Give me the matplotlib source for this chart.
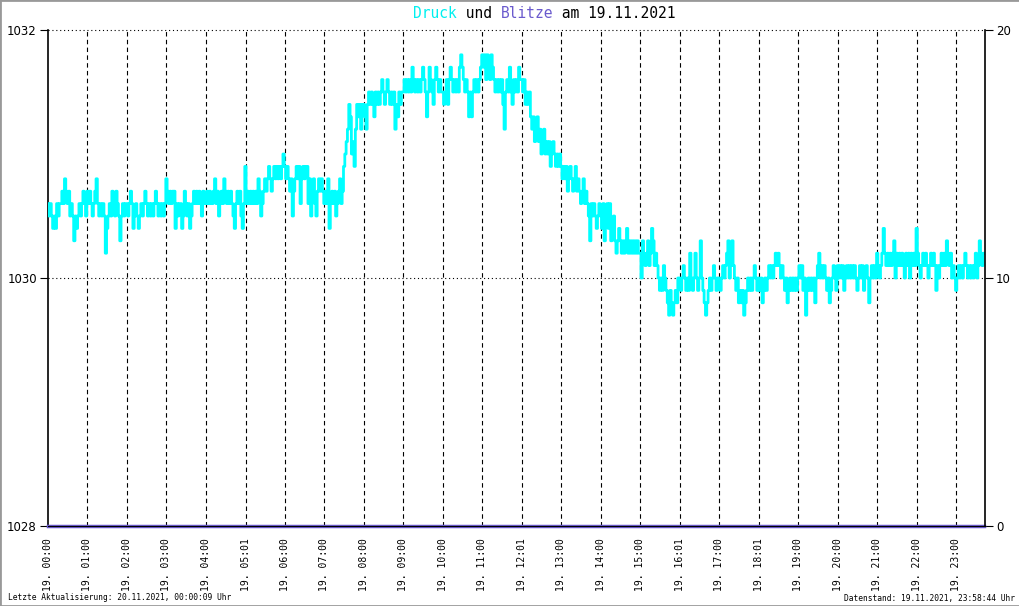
import numpy as np
import matplotlib.pyplot as plt
from matplotlib.patches import Rectangle

# Luftdruck als Zehntel-hPa ueber 1030 hPa, ein Wert alle 2 Minuten
druck_zehntel_00_06 = [
    6, 5, 6, 5, 4, 5, 4, 6, 5, 6, 6, 7, 6, 8, 7, 6, 7, 5, 6, 5, 3, 5, 4, 5, 6, 5, 6, 7, 6, 5,
    7, 6, 7, 6, 5, 6, 7, 8, 6, 5, 6, 5, 6, 5, 2, 4, 5, 6, 5, 7, 6, 5, 7, 6, 5, 3, 5, 6, 5, 6,
    6, 5, 6, 7, 6, 4, 5, 6, 5, 4, 5, 6, 5, 6, 7, 6, 5, 6, 5, 6, 5, 6, 7, 6, 5, 6, 5, 6, 5, 6,
    8, 7, 6, 7, 6, 7, 7, 4, 6, 5, 6, 6, 4, 5, 7, 6, 5, 6, 4, 5, 6, 7, 6, 7, 6, 7, 6, 5, 7, 6,
    6, 7, 6, 7, 6, 6, 7, 8, 6, 7, 5, 6, 7, 6, 8, 7, 6, 7, 6, 7, 6, 5, 4, 6, 7, 6, 7, 5, 4, 6,
    9, 6, 7, 6, 7, 6, 7, 6, 7, 6, 8, 7, 5, 6, 7, 8, 7, 8, 9, 8, 7, 8, 9, 8, 9, 8, 9, 8, 9, 10,
]
druck_zehntel_06_12 = [
    9, 8, 9, 8, 7, 8, 5, 7, 8, 9, 8, 9, 6, 8, 9, 8, 9, 9, 6, 8, 5, 7, 8, 6, 5, 7, 8, 7, 8, 7,
    6, 7, 6, 8, 4, 6, 7, 6, 7, 5, 6, 7, 8, 6, 7, 9, 10, 11, 12, 14, 13, 10, 11, 9, 12, 14, 13, 14, 12, 14,
    14, 13, 12, 14, 15, 14, 15, 14, 13, 15, 14, 15, 14, 15, 16, 15, 14, 15, 16, 15, 14, 15, 14, 15, 12, 14, 13, 15, 14, 15,
    15, 16, 15, 16, 15, 16, 15, 17, 16, 15, 16, 15, 16, 15, 16, 17, 16, 15, 13, 15, 17, 16, 15, 14, 16, 17, 16, 15, 16, 15,
    15, 14, 15, 16, 14, 16, 17, 16, 15, 16, 15, 16, 15, 17, 18, 17, 16, 15, 16, 15, 13, 15, 13, 15, 16, 15, 16, 15, 16, 17,
    18, 17, 18, 16, 18, 17, 16, 18, 17, 16, 15, 16, 15, 16, 15, 16, 14, 12, 15, 16, 15, 17, 15, 14, 16, 15, 16, 15, 17, 16,
]
druck_zehntel_12_18 = [
    16, 15, 16, 14, 15, 14, 15, 13, 12, 13, 11, 12, 13, 11, 12, 10, 11, 12, 10, 11, 10, 11, 9, 10, 11, 10, 9, 10, 9, 10,
    9, 8, 9, 8, 9, 7, 8, 9, 8, 7, 8, 9, 7, 8, 7, 6, 7, 8, 6, 7, 6, 5, 3, 6, 5, 6, 5, 4, 5, 6,
    5, 4, 6, 3, 5, 6, 4, 6, 3, 4, 5, 3, 2, 3, 4, 3, 2, 3, 2, 3, 4, 2, 3, 2, 3, 2, 3, 2, 3, 2,
    2, 0, 3, 2, 1, 2, 3, 1, 2, 4, 3, 1, 2, 1, 0, -1, 0, -1, 1, 0, -1, -2, -3, -1, -2, -3, -2, -1, -2, 0,
    0, -1, 0, 1, 0, -1, 0, -1, 2, 0, -1, 0, 2, 0, -1, 0, 3, 0, -1, -2, -3, -2, -1, 0, -1, 0, 1, 0, -1, 0,
    0, -1, 0, 1, 0, 1, 2, 3, 0, 1, 3, 1, 0, -1, 0, -2, -1, -2, -1, -3, -2, -1, 0, -1, 0, -1, 0, 1, 0, -1,
]
druck_zehntel_18_24 = [
    0, -1, 0, -2, -1, 0, -1, 0, 1, 0, 1, 0, 1, 2, 1, 2, 1, 0, 1, 0, -1, 0, -2, -1, 0, -1, 0, -1, 0, -1,
    0, 1, 0, 1, -1, 0, -3, -1, 0, -1, 0, -1, 0, -2, 0, 1, 2, 0, 1, 0, 1, 0, -1, 0, -2, -1, 0, 1, 0, -1,
    1, 0, 1, 0, 1, -1, 0, 1, 0, 1, 0, 1, 0, 1, 0, -1, 0, 1, 0, 1, -1, 0, 1, 0, -2, 0, 1, 0, 1, 0,
    2, 1, 0, 1, 2, 4, 2, 1, 2, 1, 2, 1, 2, 3, 0, 2, 1, 2, 1, 2, 1, 0, 2, 1, 2, 0, 2, 1, 2, 1,
    4, 2, 1, 0, 1, 2, 1, 2, 1, 0, 1, 2, 1, 2, 1, -1, 1, 0, 1, 2, 1, 2, 1, 3, 2, 1, 2, 0, 1, 0,
    -1, 0, 1, 0, 1, 0, 1, 2, 1, 0, 1, 0, 1, 0, 1, 2, 0, 1, 3, 2, 1, 2,
]
druck = 1030 + np.array(druck_zehntel_00_06 + druck_zehntel_06_12
                        + druck_zehntel_12_18 + druck_zehntel_18_24) / 10
zeit = np.arange(len(druck)) * 2 / 60  # Stunden
blitze = [0] * len(druck)

tick_labels = ["19. 00:00", "19. 01:00", "19. 02:00", "19. 03:00", "19. 04:00", "19. 05:01",
               "19. 06:00", "19. 07:00", "19. 08:00", "19. 09:00", "19. 10:00", "19. 11:00",
               "19. 12:01", "19. 13:00", "19. 14:00", "19. 15:00", "19. 16:01", "19. 17:00",
               "19. 18:01", "19. 19:00", "19. 20:00", "19. 21:00", "19. 22:00", "19. 23:00"]
tick_pos = [int(s[4:6]) + int(s[7:9]) / 60 for s in tick_labels]

W, H = 1020, 606
fig = plt.figure(figsize=(W / 100, H / 100), dpi=100)
ax = fig.add_axes([48 / W, 80 / H, 937 / W, 496 / H])

ax.plot(zeit, druck, color='#00ffff', lw=2.0, drawstyle='steps-mid', zorder=3)
ax.set_xlim(0, 23.73)
ax.set_ylim(1028, 1032)

for xt in tick_pos[1:]:
    ax.axvline(xt, color='black', lw=0.8, ls=(0, (4, 3)), zorder=1)
for yt in (1030, 1032):
    ax.axhline(yt, color='black', lw=0.8, ls=(0, (1, 2.5)), zorder=1, clip_on=False)

ax.set_yticks([1028, 1030, 1032])
ax.set_xticks(tick_pos)
ax.set_xticklabels(tick_labels, rotation=90, family='DejaVu Sans Mono', fontsize=7)
ax.tick_params(axis='x', length=0, pad=9)
ax.tick_params(axis='y', length=6, width=0.8, labelsize=8.5, pad=2)
ax.spines['top'].set_visible(False)
ax.spines['right'].set_visible(False)
ax.spines['left'].set_linewidth(1.2)

ax2 = ax.twinx()
ax2.plot(zeit, blitze, color='#6a5acd', lw=2.5, clip_on=False, zorder=2)
ax2.set_ylim(0, 20)
ax2.set_yticks([0, 10, 20])
ax2.tick_params(axis='y', length=6, width=0.8, labelsize=8.5, pad=2)
ax2.spines['top'].set_visible(False)
ax2.spines['left'].set_visible(False)
ax2.spines['right'].set_linewidth(1.2)
ax2.spines['bottom'].set_linewidth(0.8)

# Titel, mehrfarbig, Monospace
teile = [("Druck", '#00f0f0'), (" und ", 'black'), ("Blitze", '#6a5acd'), (" am 19.11.2021", 'black')]
fs = 10.5
cw = 0.602 * fs * 100 / 72
x0 = 413
n = 0
for txt, col in teile:
    fig.text((x0 + n * cw) / W, 1 - 13 / H, txt, color=col, family='DejaVu Sans Mono',
             fontsize=fs, ha='left', va='center')
    n += len(txt)

fig.text(8 / W, 1 - 598 / H, "Letzte Aktualisierung: 20.11.2021, 00:00:09 Uhr",
         family='DejaVu Sans Mono', fontsize=5.7, ha='left', va='center')
fig.text(1015 / W, 1 - 598 / H, "Datenstand: 19.11.2021, 23:58:44 Uhr",
         family='DejaVu Sans Mono', fontsize=5.7, ha='right', va='center')

fig.patches.append(Rectangle((0, 0), 1, 1, transform=fig.transFigure, fill=False,
                             edgecolor='#999999', lw=2))

fig.savefig('out.png', dpi=100)
